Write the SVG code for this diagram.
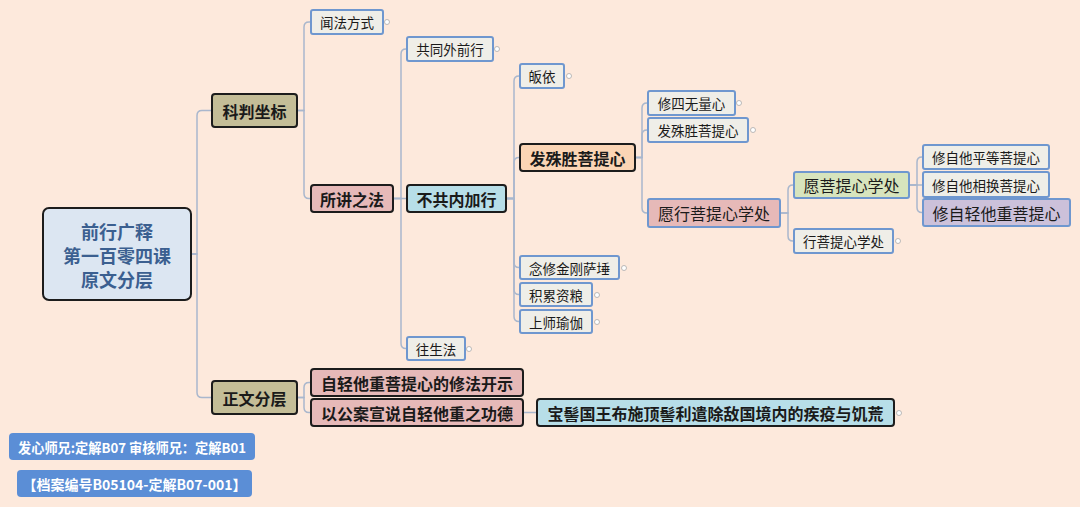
<svg xmlns="http://www.w3.org/2000/svg" width="1080" height="507" viewBox="0 0 1080 507">
<style>
text{font-family:"Noto Sans CJK SC","Noto Sans",sans-serif;text-anchor:middle;dominant-baseline:central;fill:#1a1a1a}
.dark{stroke:#1c1c1c;stroke-width:2}
.blue{stroke:#6f97cf;stroke-width:2}
.khaki{fill:#c4bd97}
.pink{fill:#e6b9b8}
.cyan{fill:#b7dee8}
.orange{fill:#fbd5b5}
.light{fill:#efeee8}
.green{fill:#d7e4bd}
.lav{fill:#ccc1da}
.b16{font-size:16px;font-weight:bold}
.n16{font-size:16px}
.n14{font-size:13.5px}
.lbl{fill:#5b8ed6}
.lt{fill:#fff;font-size:14px;font-weight:bold}
#connectors path{fill:none;stroke:#a9b7cd;stroke-width:1.5}
.col{fill:#fff;stroke:#aaa;stroke-width:0.8}
</style>
<rect width="1080" height="507" fill="#fde9dc"/>
<g id="connectors">
<path d="M191,254 H197 V115.5 Q197,110.5 202,110.5 H212"/>
<path d="M191,254 H197 V392.5 Q197,397.5 202,397.5 H212"/>
<path d="M297,110.5 H304 V27 Q304,22 309,22 H311"/>
<path d="M297,110.5 H304 V193.5 Q304,198.5 309,198.5 H311"/>
<path d="M393,198.5 H401 V54 Q401,49 406,49 H407"/>
<path d="M393,198.5 H407"/>
<path d="M393,198.5 H401 V343.5 Q401,348.5 406,348.5 H407"/>
<path d="M506,198.5 H514 V81 Q514,76 519,76 H520"/>
<path d="M506,198.5 H514 V162.5 Q514,157.5 519,157.5 H520"/>
<path d="M506,198.5 H514 V262.5 Q514,267.5 519,267.5 H520"/>
<path d="M506,198.5 H514 V289.5 Q514,294.5 519,294.5 H520"/>
<path d="M506,198.5 H514 V316.5 Q514,321.5 519,321.5 H520"/>
<path d="M635,157.5 H642 V108 Q642,103 647,103 H648"/>
<path d="M635,157.5 H642 V135 Q642,130 647,130 H648"/>
<path d="M635,157.5 H642 V208 Q642,213 647,213 H648"/>
<path d="M780,213 H788 V190 Q788,185 793,185 H794"/>
<path d="M780,213 H788 V236 Q788,241 793,241 H794"/>
<path d="M909,185 H917 V162 Q917,157 922,157 H923"/>
<path d="M909,185 H923"/>
<path d="M909,185 H917 V207.5 Q917,212.5 922,212.5 H923"/>
<path d="M297,397.5 H304 V387.5 Q304,382.5 309,382.5 H311"/>
<path d="M297,397.5 H304 V407.5 Q304,412.5 309,412.5 H311"/>
<path d="M523,412.5 H537"/>
</g>
<g id="root">
<rect x="43" y="208" width="148" height="92" rx="6" fill="#dce6f2" class="dark"/>
<text x="117" y="231" style="font-size:18px;font-weight:bold;fill:#3b5f90">前行广释</text>
<text x="117" y="255" style="font-size:18px;font-weight:bold;fill:#3b5f90">第一百零四课</text>
<text x="117" y="279" style="font-size:18px;font-weight:bold;fill:#3b5f90">原文分层</text>
</g>
<g id="n-kepan"><rect x="212" y="94" width="85" height="33" rx="3" class="khaki dark"/><text x="254.5" y="110.5" class="b16">科判坐标</text></g>
<g id="n-zhengwen"><rect x="212" y="381" width="85" height="33" rx="3" class="khaki dark"/><text x="254.5" y="397.5" class="b16">正文分层</text></g>
<g id="n-wenfa"><rect x="311" y="10" width="72" height="24" rx="2" class="light blue"/><text x="347" y="22" class="n14">闻法方式</text><circle cx="387" cy="22" r="2.5" class="col"/></g>
<g id="n-suojiang"><rect x="311" y="185" width="82" height="27" rx="3" class="pink dark"/><text x="352" y="198.5" class="b16">所讲之法</text></g>
<g id="n-gongtong"><rect x="407" y="37" width="86" height="24" rx="2" class="light blue"/><text x="450" y="49" class="n14">共同外前行</text><circle cx="497" cy="49" r="2.5" class="col"/></g>
<g id="n-bugong"><rect x="407" y="185" width="99" height="27" rx="3" class="cyan dark"/><text x="456.5" y="198.5" class="b16">不共内加行</text></g>
<g id="n-wangsheng"><rect x="407" y="337" width="58" height="23" rx="2" class="light blue"/><text x="436" y="348.5" class="n14">往生法</text><circle cx="469" cy="349" r="2.5" class="col"/></g>
<g id="n-guiyi"><rect x="520" y="64" width="44" height="24" rx="2" class="light blue"/><text x="542" y="76" class="n14">皈依</text><circle cx="569" cy="76" r="2.5" class="col"/></g>
<g id="n-fashusheng"><rect x="520" y="144" width="115" height="27" rx="3" class="orange dark"/><text x="577.5" y="157.5" class="b16">发殊胜菩提心</text></g>
<g id="n-nianxiu"><rect x="520" y="256" width="99" height="23" rx="2" class="light blue"/><text x="569.5" y="267.5" class="n14">念修金刚萨埵</text><circle cx="624" cy="268" r="2.5" class="col"/></g>
<g id="n-jilei"><rect x="520" y="283" width="72" height="23" rx="2" class="light blue"/><text x="556" y="294.5" class="n14">积累资粮</text><circle cx="597" cy="295" r="2.5" class="col"/></g>
<g id="n-shangshi"><rect x="520" y="310" width="72" height="23" rx="2" class="light blue"/><text x="556" y="321.5" class="n14">上师瑜伽</text><circle cx="597" cy="322" r="2.5" class="col"/></g>
<g id="n-xiusi"><rect x="648" y="91" width="87" height="24" rx="2" class="light blue"/><text x="691.5" y="103" class="n14">修四无量心</text><circle cx="739" cy="103" r="2.5" class="col"/></g>
<g id="n-fashusheng2"><rect x="648" y="118" width="100" height="24" rx="2" class="light blue"/><text x="698" y="130" class="n14">发殊胜菩提心</text><circle cx="753" cy="130" r="2.5" class="col"/></g>
<g id="n-yuanxing"><rect x="648" y="199" width="132" height="28" rx="2" class="pink blue"/><text x="714" y="213" class="n16">愿行菩提心学处</text></g>
<g id="n-yuan"><rect x="794" y="172" width="115" height="26" rx="2" class="green blue"/><text x="851.5" y="185" class="n16">愿菩提心学处</text></g>
<g id="n-xing"><rect x="794" y="229" width="99" height="24" rx="2" class="light blue"/><text x="843.5" y="241" class="n14">行菩提心学处</text><circle cx="898" cy="241" r="2.5" class="col"/></g>
<g id="n-pingdeng"><rect x="923" y="145" width="126" height="24" rx="2" class="light blue"/><text x="986" y="157" class="n14">修自他平等菩提心</text></g>
<g id="n-xianghuan"><rect x="923" y="172" width="126" height="25" rx="2" class="light blue"/><text x="986" y="184.5" class="n14">修自他相换菩提心</text></g>
<g id="n-ziqing"><rect x="923" y="199" width="147" height="27" rx="2" class="lav blue"/><text x="996.5" y="212.5" class="n16">修自轻他重菩提心</text></g>
<g id="n-kaishi"><rect x="311" y="369" width="212" height="27" rx="3" class="pink dark"/><text x="417" y="382.5" class="b16">自轻他重菩提心的修法开示</text></g>
<g id="n-gongde"><rect x="311" y="399" width="212" height="27" rx="3" class="pink dark"/><text x="417" y="412.5" class="b16">以公案宣说自轻他重之功德</text></g>
<g id="n-baoji"><rect x="537" y="399" width="357" height="27" rx="3" class="cyan dark"/><text x="715.5" y="412.5" class="b16">宝髻国王布施顶髻利遣除敌国境内的疾疫与饥荒</text><circle cx="899" cy="413" r="2.5" class="col"/></g>
<g id="label1"><rect x="9" y="433" width="246" height="27" rx="4" class="lbl"/><text x="132" y="446.5" class="lt" textLength="228" lengthAdjust="spacingAndGlyphs" style="font-size:13.5px">发心师兄:定解B07 审核师兄：定解B01</text></g>
<g id="label2"><rect x="17" y="470" width="235" height="27" rx="4" class="lbl"/><text x="134.5" y="483.5" class="lt">【档案编号B05104-定解B07-001】</text></g>
</svg>
